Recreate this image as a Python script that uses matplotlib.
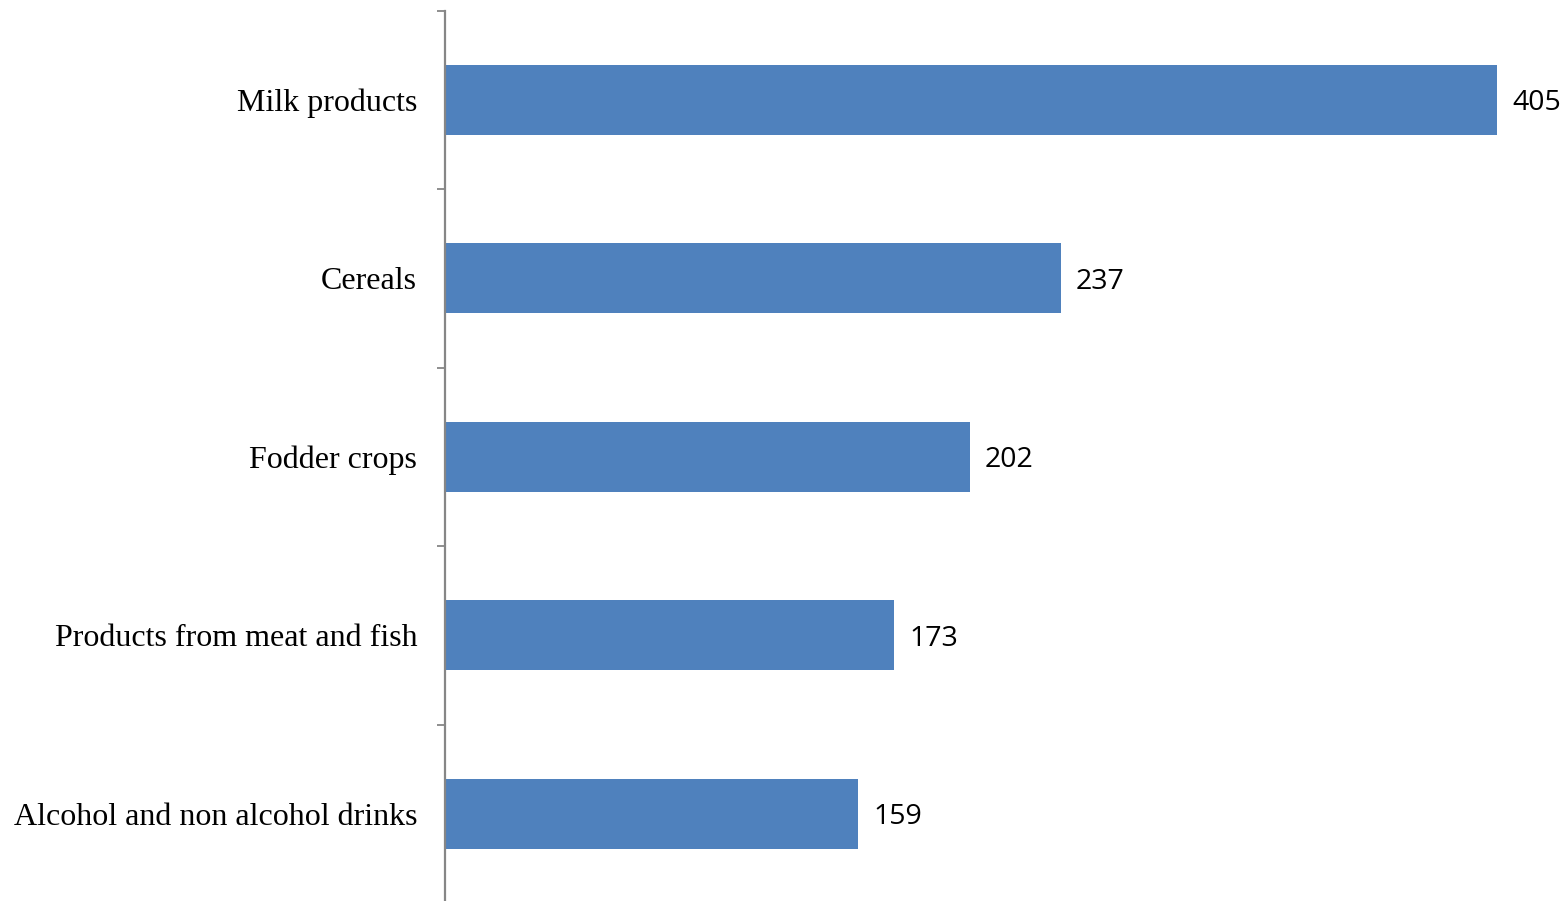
import matplotlib
matplotlib.use("Agg")
import matplotlib.pyplot as plt

categories = ["Milk products", "Cereals", "Fodder crops",
              "Products from meat and fish", "Alcohol and non alcohol drinks"]
values = [405, 237, 202, 173, 159]

W, H, DPI = 1566, 901, 100
fig = plt.figure(figsize=(W / DPI, H / DPI), dpi=DPI)
x0 = 445 / W
y_top = 10.5
y_bot = 903
ax = fig.add_axes([x0, 1 - y_bot / H, 1 - x0, (y_bot - y_top) / H])

n = len(categories)
pos = list(range(n))
ax.barh(pos, values, height=0.392, color="#4F81BD", zorder=2)
ax.set_ylim(n - 0.5, -0.5)
scale = (1497 - 445) / values[0]
ax.set_xlim(0, (W - 445) / scale)

for s in ["top", "right", "bottom"]:
    ax.spines[s].set_visible(False)
ax.spines["left"].set_color("#868686")
ax.spines["left"].set_linewidth(1.6)
ax.set_xticks([])
ax.set_yticks([i - 0.5 for i in range(n + 1)], minor=False)
ax.set_yticklabels([])
ax.tick_params(axis="y", which="major", length=6, width=1.3, color="#868686", direction="out")
ax.set_yticks(pos, minor=True)
ax.set_yticklabels(categories, minor=True, fontfamily="Liberation Serif", fontsize=23)
ax.tick_params(axis="y", which="minor", length=0, pad=20)

for p, v in zip(pos, values):
    ax.annotate(str(v), xy=(v, p), xytext=(11, -2.5), textcoords="offset points",
                va="center", ha="left", fontfamily="Open Sans", fontsize=20.5, color="black")

fig.savefig("out.png", dpi=DPI)
